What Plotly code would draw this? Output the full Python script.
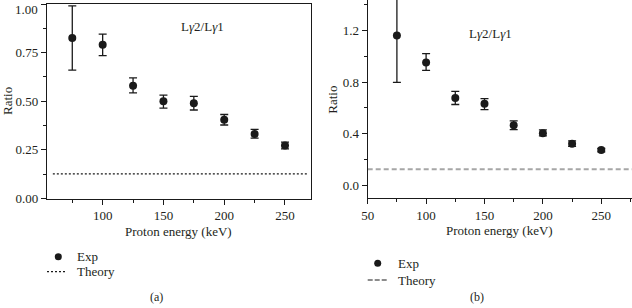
import plotly.graph_objects as go

# ---------------- data ----------------
energy = [75, 100, 125, 150, 175, 200, 225, 250]

# panel (a)
ratio_a = [0.825, 0.790, 0.580, 0.500, 0.490, 0.405, 0.332, 0.272]
err_up_a = [0.165, 0.055, 0.040, 0.032, 0.035, 0.027, 0.023, 0.018]
err_dn_a = [0.165, 0.055, 0.037, 0.035, 0.035, 0.027, 0.022, 0.017]
theory_a_x = [59, 268]
theory_a_y = [0.127, 0.127]
yticks_a = [0.0, 0.25, 0.5, 0.75, 1.0]
yticktext_a = ["0.00", "0.25", "0.50", "0.75", ""]
top_label_a = "1.00"

# panel (b)
ratio_b = [1.160, 0.952, 0.677, 0.631, 0.465, 0.403, 0.323, 0.274]
err_up_b = [0.363, 0.068, 0.050, 0.040, 0.034, 0.026, 0.021, 0.012]
err_dn_b = [0.363, 0.062, 0.051, 0.044, 0.033, 0.020, 0.021, 0.015]
theory_b_x = [50, 276.3]
theory_b_y = [0.124, 0.124]

label_ratio = "L<i>γ</i>2/L<i>γ</i>1"
xtitle = "Proton energy (keV)"
ytitle = "Ratio"

FONT = "Liberation Serif"
TXT = "#231f20"
W, H = 632, 308

fig = go.Figure()

mk = dict(symbol="circle", size=8, color="#1a1a1a")

fig.add_trace(go.Scatter(
    x=energy, y=ratio_a, mode="markers", marker=mk, xaxis="x", yaxis="y",
    error_y=dict(type="data", array=err_up_a, arrayminus=err_dn_a,
                 color="#1a1a1a", thickness=1.3, width=4),
    showlegend=False))
fig.add_trace(go.Scatter(
    x=theory_a_x, y=theory_a_y, mode="lines", xaxis="x", yaxis="y",
    line=dict(color="#1a1a1a", width=1.2, dash="2px,2px"), showlegend=False))

fig.add_trace(go.Scatter(
    x=energy, y=ratio_b, mode="markers", marker=mk, xaxis="x2", yaxis="y2",
    error_y=dict(type="data", array=err_up_b, arrayminus=err_dn_b,
                 color="#1a1a1a", thickness=1.3, width=4),
    showlegend=False))
fig.add_trace(go.Scatter(
    x=theory_b_x, y=theory_b_y, mode="lines", xaxis="x2", yaxis="y2",
    line=dict(color="#a6a6a6", width=2, dash="5px,3px"), showlegend=False))

def px(x):
    return x / W

def py(y):
    return 1 - y / H

axcommon = dict(showline=True, linecolor="#1a1a1a", linewidth=1.2, mirror=True,
                ticks="outside", ticklen=5, tickwidth=1, tickcolor="#1a1a1a",
                showgrid=False, zeroline=False, automargin=False,
                ticklabeloverflow="allow",
                tickfont=dict(family=FONT, size=13, color=TXT))

fig.update_layout(
    template="none",
    width=W, height=H,
    margin=dict(l=0, r=0, t=0, b=0, pad=0),
    paper_bgcolor="white", plot_bgcolor="white",
    font=dict(family=FONT, size=13, color=TXT),
    xaxis=dict(domain=[px(47), px(311)], range=[54.2, 271.4], anchor="y",
               tick0=0, dtick=50,
               minor=dict(dtick=25, ticks="outside", ticklen=3, tickcolor="#1a1a1a"),
               **axcommon),
    yaxis=dict(domain=[py(198.5), py(4)], range=[0, 1.0], anchor="x",
               tickmode="array", tickvals=yticks_a, ticktext=yticktext_a,
               minor=dict(dtick=0.125, tick0=0, ticks="outside", ticklen=3,
                          tickcolor="#1a1a1a"),
               **axcommon),
    xaxis2=dict(domain=[px(367.7), 1.0], range=[50, 276.3], anchor="y2",
                tick0=0, dtick=50,
                minor=dict(dtick=25, ticks="outside", ticklen=3, tickcolor="#1a1a1a"),
                **axcommon),
    yaxis2=dict(domain=[py(198.3), 1.0], range=[-0.1, 1.435], anchor="x2",
                tick0=0, dtick=0.4, tickformat=".1f",
                minor=dict(dtick=0.2, ticks="outside", ticklen=3, tickcolor="#1a1a1a"),
                **axcommon),
)

ann = []
def text(x, y, s, size=13, xanchor="center", angle=0, yanchor="middle"):
    ann.append(dict(x=px(x), y=py(y), xref="paper", yref="paper", text=s,
                    showarrow=False, xanchor=xanchor, yanchor=yanchor,
                    textangle=angle, font=dict(family=FONT, size=size, color=TXT)))

# top tick label of panel (a), kept inside the picture
text(40, 0, top_label_a, 13, xanchor="right", yanchor="top")
# in-plot labels
text(202, 26.7, label_ratio, 13)
text(490.7, 33.3, label_ratio, 13)
# axis titles
text(7, 101, ytitle, 13, angle=-90)
text(331.7, 100, ytitle, 13, angle=-90)
text(178.3, 231.7, xtitle, 13)
text(499, 230.7, xtitle, 13)
# legends
text(75, 256.7, "Exp", 13, xanchor="left")
text(75, 271.7, "Theory", 13, xanchor="left")
text(396, 263.3, "Exp", 13, xanchor="left")
text(396, 280, "Theory", 13, xanchor="left")
# captions
text(156, 297, "(a)", 12)
text(477, 297, "(b)", 12)

shapes = []
def circ(cx, cy, r=3.5):
    shapes.append(dict(type="circle", xref="paper", yref="paper",
                       x0=px(cx - r), x1=px(cx + r), y0=py(cy + r), y1=py(cy - r),
                       fillcolor="#1a1a1a", line=dict(width=0)))
def hline(x0, x1, y, dash, color="#1a1a1a", width=1.2):
    shapes.append(dict(type="line", xref="paper", yref="paper",
                       x0=px(x0), x1=px(x1), y0=py(y), y1=py(y),
                       line=dict(color=color, width=width, dash=dash)))

circ(58.3, 256.7)
hline(47, 67, 271.7, "2px,2px")
circ(377.7, 263.3)
hline(367.7, 388.7, 280, "5px,2px")

fig.update_layout(annotations=ann, shapes=shapes)

fig.write_html("out.html", config={"displayModeBar": False},
               post_script="document.body.style.margin='0';document.body.style.overflow='hidden';")
